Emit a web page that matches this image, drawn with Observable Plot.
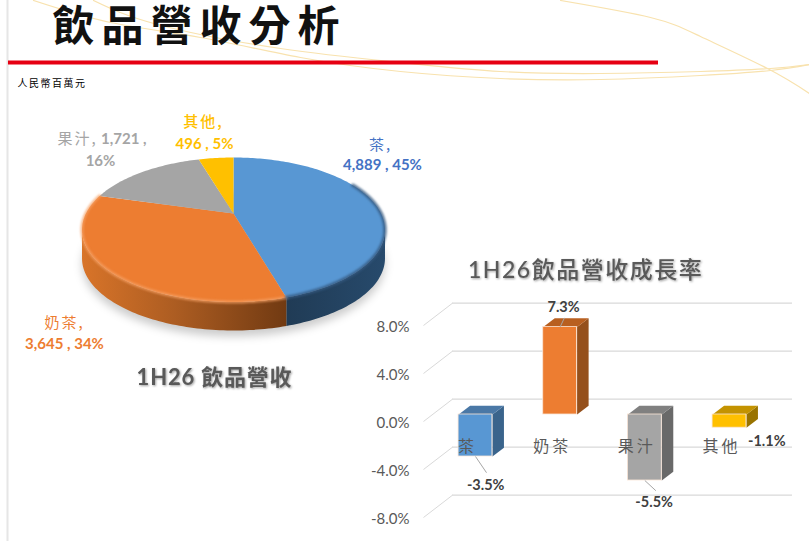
<!DOCTYPE html>
<html><head><meta charset="utf-8">
<script src="https://cdn.jsdelivr.net/npm/d3@7"></script>
<script src="https://cdn.jsdelivr.net/npm/@observablehq/plot@0.6"></script>
<style>
html,body{margin:0;padding:0;background:#fff;overflow:hidden}
#stage{position:relative;width:809px;height:541px}
#stage svg{position:absolute;left:0;top:0}
.shadowed{filter:drop-shadow(1.5px 1.5px 1.2px rgba(0,0,0,.38))}
.blur{filter:blur(4px)}
.soft{filter:blur(1px)}
.sp6 text{letter-spacing:7px}
.sp1 text{letter-spacing:1.5px}
.sp0 text{letter-spacing:.8px}
.sp2 text{letter-spacing:2px}
.sp3 text{letter-spacing:3px}
</style></head><body><div id="stage"></div>
<script>
// ---------- data ----------
const categories = ["茶", "奶茶", "果汁", "其他"];
const revenue = [4889, 3645, 1721, 496];
const shares = [45, 34, 16, 5];
const growth = [-3.5, 7.3, -5.5, -1.1];
const growthTicks = [-8, -4, 0, 4, 8];
const sliceColors = ["#5897D3", "#ED7D31", "#A5A5A5", "#FFC000"];
const labelColors = ["#4472C4", "#ED7D31", "#A5A5A5", "#FFC000"];
const barTop = ["#4A78A6", "#B85F20", "#808080", "#C49300"];
const barSide = ["#3A648C", "#95501C", "#696969", "#997300"];
const swooshes = [
  [[33,0],[110,22],[200,37],[300,57],[400,71],[500,78],[600,79],[700,75],[770,70],[809,64]],
  [[93,0],[157,24],[280,48],[400,62],[500,71],[600,73],[700,71],[770,68],[809,64]],
  [[560,0],[650,17],[700,36],[767,68],[809,93]]
];

// ---------- helpers ----------
const latin = "Lato,'Noto Sans CJK TC',sans-serif";
const cjk = "'Noto Sans CJK TC',sans-serif";
function label(text, x, y, o = {}) {
  return Plot.text([text], {x: () => x, y: () => y, text: d => d, fontFamily: latin, lineAnchor: "middle", ...o});
}
// perspective projection of the pie disc
const cx = 233, apexY = 213, kx = 147.6, ka = 68.6, kb = 0.225, depth = 28.5;
const proj = t => {
  const s = Math.sin(t), c = Math.cos(t), w = 1 + kb * c;
  return {x: cx + kx * s / w, y: apexY - ka * c / w};
};
const arc = (a, b) => {
  const n = Math.max(2, Math.ceil(Math.abs(b - a) / 0.02));
  return d3.range(n + 1).map(i => proj(a + (b - a) * i / n));
};
const total = d3.sum(revenue);
const cum = d3.cumsum(revenue).map(v => v / total * 2 * Math.PI);
const starts = [0, ...cum.slice(0, -1)];
const silR = Math.acos(-kb), silL = 2 * Math.PI - silR;
const band = (a, b) => {
  const t = arc(a, b);
  return [...t, ...t.slice().reverse().map(p => ({x: p.x, y: p.y + depth}))];
};
const poly = (pts, o) => Plot.line(pts, {x: "x", y: "y", stroke: "none", ...o});
const defs = () => {
  const g = document.createElementNS("http://www.w3.org/2000/svg", "g");
  g.innerHTML = `<defs>
    <linearGradient id="sideO" x1="0" x2="1" y1="0" y2="0">
      <stop offset="0" stop-color="#D87429"/><stop offset=".45" stop-color="#AD5D22"/><stop offset="1" stop-color="#713A12"/>
    </linearGradient>
    <linearGradient id="sideB" x1="0" x2="1" y1="0" y2="0">
      <stop offset="0" stop-color="#203B55"/><stop offset="1" stop-color="#274A6C"/>
    </linearGradient></defs>`;
  return g;
};

// ---------- page + pie ----------
const stage = document.getElementById("stage");
const pie = Plot.plot({
  width: 809, height: 541, margin: 0,
  style: {background: "transparent"},
  x: {type: "identity", axis: null},
  y: {type: "identity", axis: null},
  marks: [
    defs,
    ...swooshes.map(s => Plot.line(s, {x: d => d[0], y: d => d[1], curve: "natural", stroke: "#F8E2AE", strokeWidth: 1.2})),
    Plot.ruleX([7], {y1: () => 0, y2: () => 541, stroke: "#E6E6E6", strokeWidth: 2}),
    Plot.ruleY([62], {x1: () => 8, x2: () => 658, stroke: "#E60012", strokeWidth: 4}),
    label("飲品營收分析", 52, 27, {textAnchor: "start", fontSize: 42, fontWeight: 700, fontFamily: cjk, fill: "#111", className: "sp6"}),
    label("人民幣百萬元", 17, 83, {textAnchor: "start", fontSize: 10, fontFamily: cjk, fill: "#000", className: "sp1"}),

    // soft floor shadow
    poly(arc(0, 2 * Math.PI).map(p => ({x: p.x, y: p.y + depth + 6})), {fill: "#000", fillOpacity: 0.2, className: "blur"}),
    // disc sides
    poly(band(silR, cum[0]), {fill: "url(#sideB)"}),
    poly(band(cum[0], silL), {fill: "url(#sideO)"}),
    // disc top
    ...revenue.map((_, i) => poly([{x: cx, y: apexY}, ...arc(starts[i], cum[i])], {fill: sliceColors[i]})),
    // bevel
    Plot.line(arc(cum[0], cum[1]), {x: "x", y: "y", stroke: "#F6A064", strokeWidth: 3, strokeOpacity: 0.75, className: "soft"}),
    Plot.line(arc(1.1, cum[0]), {x: "x", y: "y", stroke: "#34597F", strokeWidth: 3.5, strokeOpacity: 0.8, className: "soft"}),

    // pie labels
    label(`${categories[0]},`, 380, 145, {fontFamily: cjk, fontSize: 15, fill: labelColors[0], className: "sp2"}),
    label(`${d3.format(",")(revenue[0])} , ${shares[0]}%`, 382, 165, {fontSize: 15, fontWeight: 700, fill: labelColors[0]}),
    label(`${categories[1]},`, 64, 323, {fontFamily: cjk, fontSize: 15, fill: labelColors[1], className: "sp2"}),
    label(`${d3.format(",")(revenue[1])} , ${shares[1]}%`, 64, 344, {fontSize: 15, fontWeight: 700, fill: labelColors[1]}),
    label(`${categories[2]},`, 57, 139, {textAnchor: "start", fontFamily: cjk, fontSize: 15, fill: labelColors[2], className: "sp2"}),
    label(`${d3.format(",")(revenue[2])} ,`, 146, 139, {textAnchor: "end", fontSize: 15, fontWeight: 700, fill: labelColors[2]}),
    label(`${shares[2]}%`, 100, 161, {fontSize: 15, fontWeight: 700, fill: labelColors[2]}),
    label(`${categories[3]},`, 203, 122, {fontFamily: cjk, fontSize: 15, fontWeight: 500, fill: labelColors[3], className: "sp2"}),
    label(`${d3.format(",")(revenue[3])} , ${shares[3]}%`, 204, 144, {fontSize: 15, fontWeight: 700, fill: labelColors[3]}),

    label("1H26 飲品營收", 214, 377, {fontSize: 22, fontWeight: 700, fill: "#595959", className: "sp0 shadowed"})
  ]
});
stage.append(pie);

// ---------- 3D bars ----------
const halfW = 0.2, ddx = 0.136, ddy = 0.725;
const wallL = -0.272, wallR = 3.744, frontL = -0.614;
const wallUp = 1.275, frontDown = 0.583;
const leaders = [
  {i: 0, x1: 0, y1: growth[0], x2: 0.13, y2: growth[0] - 1.35},
  {i: 1, x1: 1.0, y1: growth[1], x2: 1.05, y2: growth[1] + 0.75},
  {i: 2, x1: 2, y1: growth[2], x2: 2.13, y2: growth[2] - 0.85}
];
const valueSpots = [[0.12, -5.9], [1.04, 8.9], [2.11, -7.35], [3.44, -2.2]];
const bars = growth.map((v, i) => ({i, v, top: Math.max(v, 0), bot: Math.min(v, 0)}));

const chart = Plot.plot({
  width: 809, height: 541,
  marginLeft: 412, marginBottom: 101, marginTop: 0, marginRight: 0,
  style: {background: "transparent"},
  x: {type: "linear", domain: [0, 3], range: [475, 729], axis: null},
  y: {type: "linear", domain: [-8, 8], range: [510, 318], axis: null},
  marks: [
    label("1H26飲品營收成長率", 0, 0, {
      x: () => 1.3, y: () => 12.0, fontSize: 23, fontWeight: 500, fontFamily: latin, fill: "#595959", className: "sp1 shadowed"
    }),
    Plot.ruleY(growthTicks, {x1: () => wallL, x2: () => wallR, dy: -15.3, stroke: "#D9D9D9", strokeWidth: 1.3}),
    Plot.link(growthTicks, {x1: () => frontL, x2: () => wallL, y1: d => d - frontDown, y2: d => d + wallUp, stroke: "#D9D9D9", strokeWidth: 1}),
    Plot.axisY({ticks: growthTicks, tickSize: 0, tickPadding: 3, dy: 9, label: null,
      tickFormat: d => d.toFixed(1) + "%", fontSize: 15, fontFamily: latin, color: "#595959"}),
    ...bars.flatMap(b => [
      poly([
        {x: b.i + halfW, y: b.top}, {x: b.i + halfW + ddx, y: b.top + ddy},
        {x: b.i + halfW + ddx, y: b.bot + ddy}, {x: b.i + halfW, y: b.bot}
      ], {fill: barSide[b.i]}),
      poly([
        {x: b.i - halfW, y: b.top}, {x: b.i + halfW, y: b.top},
        {x: b.i + halfW + ddx, y: b.top + ddy}, {x: b.i - halfW + ddx, y: b.top + ddy}
      ], {fill: barTop[b.i]})
    ]),
    Plot.rect(bars, {x1: d => d.i - halfW, x2: d => d.i + halfW, y1: d => d.bot, y2: d => d.top,
      fill: d => sliceColors[d.i], stroke: "#FBE5D6", strokeWidth: 0.8}),
    Plot.link(leaders, {x1: "x1", x2: "x2", y1: "y1", y2: "y2", stroke: "#A6A6A6", strokeWidth: 1}),
    Plot.axisX({ticks: d3.range(categories.length), tickSize: 0, tickPadding: 0, dx: -8, label: null,
      tickFormat: i => categories[i], fontSize: 16, fontFamily: cjk, color: "#595959", className: "sp3"}),
    Plot.text(growth, {x: (_, i) => valueSpots[i][0], y: (_, i) => valueSpots[i][1], text: d => d.toFixed(1) + "%",
      fontFamily: latin, fontSize: 14.5, fontWeight: 700, fill: "#404040", lineAnchor: "middle"})
  ]
});
stage.append(chart);
</script></body></html>
